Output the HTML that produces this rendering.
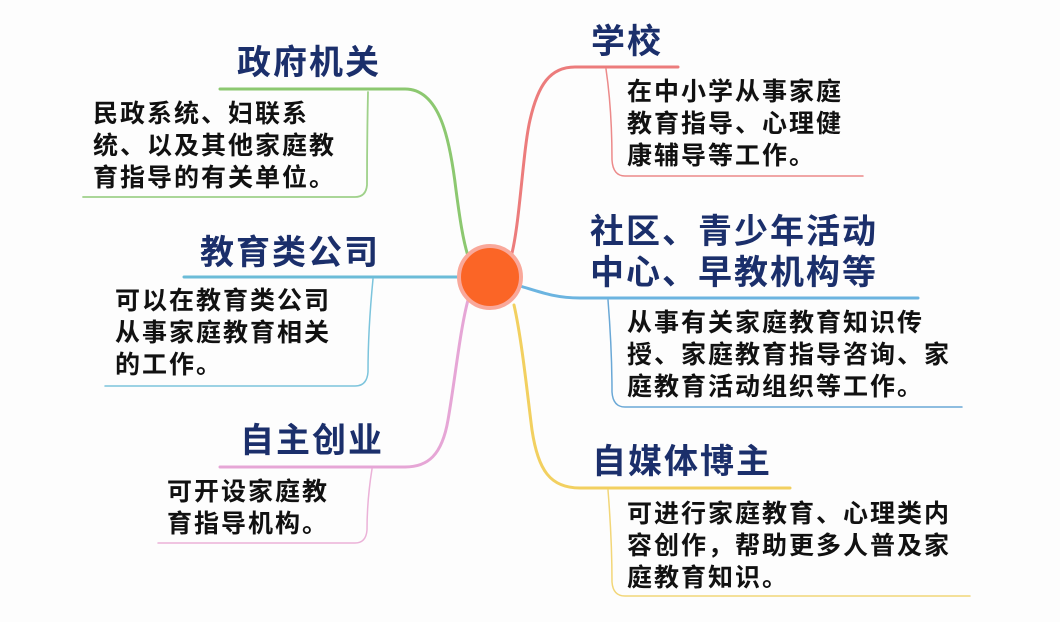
<!DOCTYPE html>
<html><head><meta charset="utf-8"><style>
html,body{margin:0;padding:0;background:#fdfdfd;}
svg{display:block;}
.t{font-family:"Liberation Sans","Noto Sans CJK SC",sans-serif;font-size:34px;font-weight:bold;fill:#1b2f6b;letter-spacing:2px;}
.b{font-family:"Liberation Sans","Noto Sans CJK SC",sans-serif;font-size:25px;font-weight:bold;fill:#111;letter-spacing:2px;}
</style></head><body>
<svg width="1060" height="622" viewBox="0 0 1060 622" xmlns="http://www.w3.org/2000/svg">
<rect width="1060" height="622" fill="#fdfdfd"/>
<g fill="none" stroke-linecap="round">
<path d="M220 89 H405 C440 89 450 140 456 190 C460 220 463 240 468 256" stroke="#8cc870" stroke-width="3"/>
<path d="M368 92 Q367 140 367 185 Q366 197 355 197 H83" stroke="#9fd18a" stroke-width="1.8"/>
<path d="M184 277 H460" stroke="#6bbcd8" stroke-width="3"/>
<path d="M373 279 Q368 330 368 372 Q367 386 355 386 H105" stroke="#7cc4dc" stroke-width="1.5"/>
<path d="M468 300 C460 330 455 380 448 420 C442 455 428 467 405 467 H220" stroke="#e6a6d6" stroke-width="3"/>
<path d="M372 469 Q367 500 367 530 Q366 543 355 543 H158" stroke="#ebb2d8" stroke-width="1.5"/>
<path d="M512 253 C520 220 523 150 530 120 C538 85 550 67 575 67 H678" stroke="#ec7c7c" stroke-width="3"/>
<path d="M606 69 Q612 110 612 160 Q613 176 625 176 H863" stroke="#ec8a8a" stroke-width="1.5"/>
<path d="M520 286 C540 292 555 298 580 298 H918" stroke="#6bb4e0" stroke-width="3"/>
<path d="M608 300 Q612 350 612 392 Q613 407 625 407 H962" stroke="#6aa8d6" stroke-width="1.5"/>
<path d="M514 305 C522 340 528 400 532 430 C538 470 550 488 580 488 H790" stroke="#f2d060" stroke-width="3"/>
<path d="M608 490 Q612 540 612 582 Q613 596 625 596 H970" stroke="#f2d678" stroke-width="1.5"/>
</g>
<circle cx="490" cy="277" r="31" fill="#fb6526" stroke="#f9a89a" stroke-width="4"/>

<text class="t" x="237" y="74">政府机关</text>
<text class="b" x="93" y="122">民政系统、妇联系</text>
<text class="b" x="93" y="154">统、以及其他家庭教</text>
<text class="b" x="93" y="186">育指导的有关单位。</text>

<text class="t" x="200" y="264">教育类公司</text>
<text class="b" x="115" y="309">可以在教育类公司</text>
<text class="b" x="115" y="341">从事家庭教育相关</text>
<text class="b" x="115" y="373">的工作。</text>

<text class="t" x="240" y="452">自主创业</text>
<text class="b" x="167" y="500">可开设家庭教</text>
<text class="b" x="167" y="532">育指导机构。</text>

<text class="t" x="591" y="53">学校</text>
<text class="b" x="627" y="100">在中小学从事家庭</text>
<text class="b" x="627" y="132">教育指导、心理健</text>
<text class="b" x="627" y="164">康辅导等工作。</text>

<text class="t" x="590" y="243">社区、青少年活动</text>
<text class="t" x="590" y="284">中心、早教机构等</text>
<text class="b" x="627" y="331">从事有关家庭教育知识传</text>
<text class="b" x="627" y="363">授、家庭教育指导咨询、家</text>
<text class="b" x="627" y="395">庭教育活动组织等工作。</text>

<text class="t" x="592" y="473">自媒体博主</text>
<text class="b" x="627" y="522">可进行家庭教育、心理类内</text>
<text class="b" x="627" y="554">容创作，帮助更多人普及家</text>
<text class="b" x="627" y="586">庭教育知识。</text>
</svg>
</body></html>
